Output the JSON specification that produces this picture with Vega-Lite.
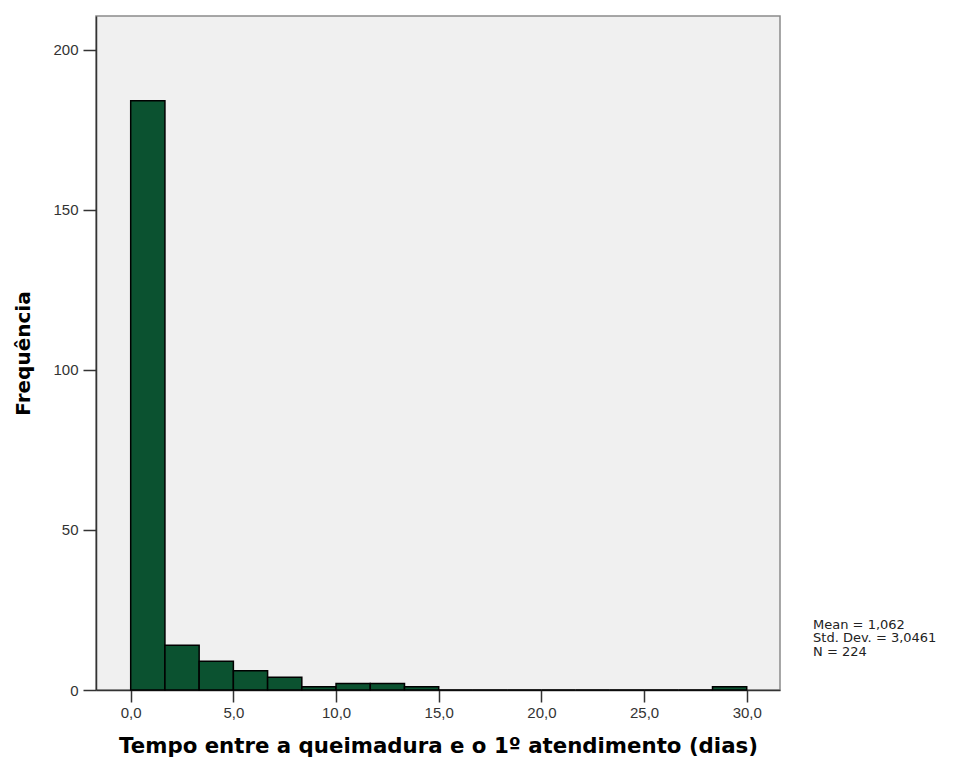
{
  "$schema": "https://vega.github.io/schema/vega-lite/v6.json",
  "width": 684,
  "height": 674,
  "autosize": {"type": "none"},
  "padding": {"left": 96, "top": 16, "right": 187, "bottom": 74},
  "background": "#ffffff",
  "config": {
    "view": {"fill": "#f0f0f0", "stroke": "#8a8a8a", "strokeWidth": 1.5},
    "axis": {
      "labelFont": "Liberation Sans",
      "labelFontSize": 15,
      "labelColor": "#333333",
      "titleFont": "DejaVu Sans",
      "titleFontWeight": "bold",
      "titleColor": "#000000",
      "grid": false,
      "domainColor": "#333333",
      "domainWidth": 1.5,
      "tickColor": "#333333",
      "tickWidth": 1.5,
      "tickSize": 13
    }
  },
  "data": {
    "values": [
      {"start": 0.0, "end": 1.6667, "count": 184},
      {"start": 1.6667, "end": 3.3333, "count": 14},
      {"start": 3.3333, "end": 5.0, "count": 9},
      {"start": 5.0, "end": 6.6667, "count": 6},
      {"start": 6.6667, "end": 8.3333, "count": 4},
      {"start": 8.3333, "end": 10.0, "count": 1},
      {"start": 10.0, "end": 11.6667, "count": 2},
      {"start": 11.6667, "end": 13.3333, "count": 2},
      {"start": 13.3333, "end": 15.0, "count": 1},
      {"start": 15.0, "end": 16.6667, "count": 0},
      {"start": 16.6667, "end": 18.3333, "count": 0},
      {"start": 18.3333, "end": 20.0, "count": 0},
      {"start": 20.0, "end": 21.6667, "count": 0},
      {"start": 21.6667, "end": 23.3333, "count": 0},
      {"start": 23.3333, "end": 25.0, "count": 0},
      {"start": 25.0, "end": 26.6667, "count": 0},
      {"start": 26.6667, "end": 28.3333, "count": 0},
      {"start": 28.3333, "end": 30.0, "count": 1}
    ]
  },
  "layer": [
    {
      "mark": {"type": "rect", "fill": "#0b5230", "stroke": "#000000", "strokeWidth": 1.5},
      "encoding": {
        "x": {
          "field": "start",
          "type": "quantitative",
          "scale": {"domain": [-1.69, 31.62], "nice": false, "zero": false},
          "axis": {
            "values": [0, 5, 10, 15, 20, 25, 30],
            "labelExpr": "replace(format(datum.value, '.1f'), '.', ',')",
            "title": "Tempo entre a queimadura e o 1º atendimento (dias)",
            "titleFontSize": 21.3,
            "titlePadding": 15,
            "labelPadding": 3,
            "tickSize": 12
          }
        },
        "x2": {"field": "end"},
        "y": {
          "field": "count",
          "type": "quantitative",
          "scale": {"domain": [0, 210.5], "nice": false},
          "axis": {
            "values": [0, 50, 100, 150, 200],
            "title": "Frequência",
            "titleFontSize": 20,
            "titlePadding": 19,
            "labelPadding": 5
          }
        },
        "y2": {"datum": 0}
      }
    },
    {
      "data": {"values": [{"stats": ["Mean = 1,062", "Std. Dev. = 3,0461", "N = 224"]}]},
      "mark": {
        "type": "text",
        "align": "left",
        "baseline": "top",
        "font": "DejaVu Sans",
        "fontSize": 13,
        "lineHeight": 13.5,
        "color": "#222222",
        "clip": false
      },
      "encoding": {
        "text": {"field": "stats"},
        "x": {"datum": 33.23, "type": "quantitative"},
        "y": {"datum": 22.3, "type": "quantitative"}
      }
    }
  ]
}
